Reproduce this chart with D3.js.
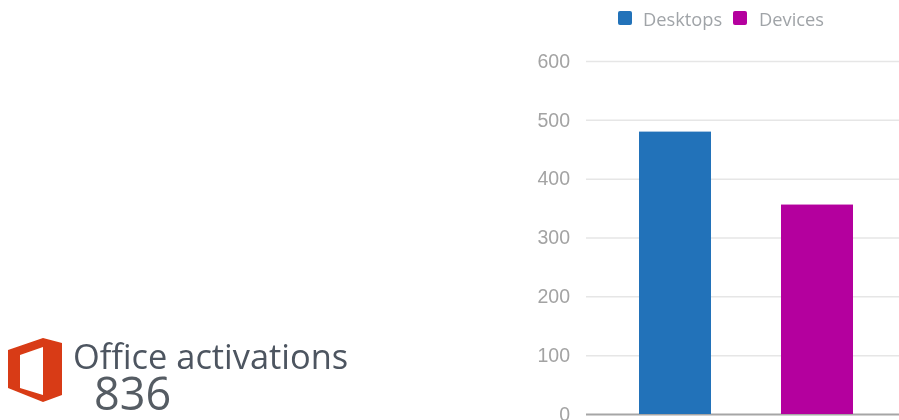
<!DOCTYPE html>
<html>
<head>
<meta charset="utf-8">
<script src="https://d3js.org/d3.v7.min.js"></script>
<style>
  html, body { margin: 0; padding: 0; background: #fff; overflow: hidden; }
  text { font-family: "Open Sans", "Noto Sans", sans-serif; }
  .tick-label { font-family: "Liberation Sans", Arial, sans-serif; }
</style>
</head>
<body>
<div id="chart"></div>
<script>
const categories = ["Desktops", "Devices"];
const values = [480, 356];
const colors = ["#2272b9", "#b4009e"];
const yTicks = [0, 100, 200, 300, 400, 500, 600];
const title = "Office activations";
const total = "836";

const width = 899, height = 420;

const svg = d3.select("#chart").append("svg")
  .attr("width", width)
  .attr("height", height)
  .style("display", "block");

// the screenshot is a bit soft, so keep everything slightly blurred
const defs = svg.append("defs");
defs.append("filter").attr("id", "soft")
  .append("feGaussianBlur").attr("stdDeviation", 0.45);

const root = svg.append("g").attr("filter", "url(#soft)");

const x = d3.scaleBand().domain(categories).range([604, 888])
  .paddingInner(0.493).paddingOuter(0.2465);
const y = d3.scaleLinear().domain([0, 600]).range([414, 61]);

// y axis + gridlines
const yAxis = root.append("g")
  .attr("transform", "translate(586,0)")
  .call(d3.axisLeft(y).tickValues(yTicks).tickSize(-313).tickPadding(16));
yAxis.select(".domain").remove();
yAxis.selectAll(".tick line")
  .attr("stroke", (d) => (d === 0 ? "#a6a6a6" : "#e6e6e6"))
  .attr("stroke-width", (d) => (d === 0 ? 2 : 1.5));
yAxis.selectAll(".tick text")
  .attr("class", "tick-label")
  .attr("fill", "#a3a3a3")
  .style("font-size", "19.5px");

// bars
root.selectAll(".bar")
  .data(categories)
  .join("rect")
  .attr("class", "bar")
  .attr("x", (d) => x(d))
  .attr("y", (d, i) => y(values[i]))
  .attr("width", x.bandwidth())
  .attr("height", (d, i) => y(0) - y(values[i]))
  .attr("fill", (d, i) => colors[i]);

// legend
const legendX = [618, 733];
const legend = root.selectAll(".legend")
  .data(categories)
  .join("g")
  .attr("class", "legend")
  .attr("transform", (d, i) => `translate(${legendX[i]},11)`);
legend.append("rect")
  .attr("width", 14)
  .attr("height", 14)
  .attr("rx", 2)
  .attr("fill", (d, i) => colors[i]);
legend.append("text")
  .attr("x", (d, i) => (i === 0 ? 25 : 26))
  .attr("y", 14.5)
  .attr("fill", "#a0a4a8")
  .style("font-size", "18.3px")
  .text((d) => d);

// office logo
root.append("path")
  .attr("d", "M8 350 L43 338 L62 343 L62 395 L43 402 L8 388 Z M20 355 L20 388 L43 395 L43 347 Z")
  .attr("fill", "#d83b12")
  .attr("fill-rule", "evenodd");

// headline
root.append("text")
  .attr("x", 73)
  .attr("y", 369)
  .attr("fill", "#4d5560")
  .style("font-size", "34.4px")
  .text(title);
root.append("text")
  .attr("x", 94)
  .attr("y", 410)
  .attr("fill", "#555b63")
  .style("font-size", "45px")
  .text(total);
</script>
</body>
</html>
